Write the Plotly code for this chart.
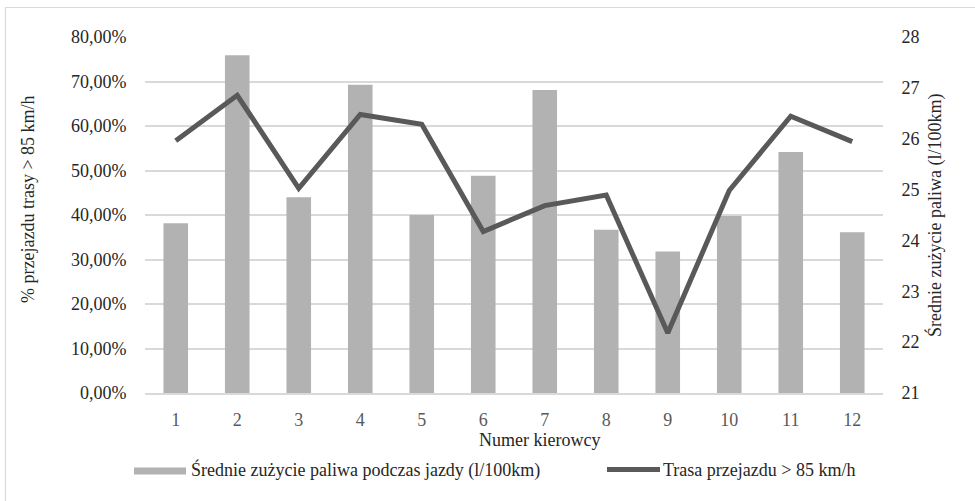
import plotly.graph_objects as go

# Driver numbers
drivers = [str(i) for i in range(1, 13)]
# Average fuel consumption while driving (l/100km)
fuel = [24.34, 27.64, 24.85, 27.06, 24.50, 25.27, 26.96, 24.21, 23.78, 24.48, 25.74, 24.16]
# Share of route driven above 85 km/h
share_fast = [0.567, 0.669, 0.460, 0.626, 0.604, 0.363, 0.421, 0.445, 0.135, 0.455, 0.622, 0.565]

left_ticks = [i / 10 for i in range(0, 9)]
right_ticks = list(range(21, 29))

FONT = "Liberation Serif, Times New Roman, serif"
FS = 18
W, H = 975, 501
L, R, T, B = 145, 92, 37, 108
PW, PH = W - L - R, H - T - B


def px(x):
    return (x - L) / PW


def py(y):
    return (H - B - y) / PH


fig = go.Figure()
# bars on the right-hand (fuel) axis, drawn first
fig.add_trace(go.Bar(
    x=drivers, y=fuel, yaxis="y",
    name="Średnie zużycie paliwa podczas jazdy (l/100km)",
    marker=dict(color="#b2b2b2", line=dict(width=0)),
    width=0.4,
))
# line on the overlaying left-hand (percent) axis, drawn on top
fig.add_trace(go.Scatter(
    x=drivers, y=share_fast, yaxis="y2",
    name="Trasa przejazdu > 85 km/h",
    mode="lines",
    line=dict(color="#595959", width=5),
))

fig.update_layout(
    width=W, height=H,
    margin=dict(l=L, r=R, t=T, b=B),
    paper_bgcolor="white", plot_bgcolor="white",
    separators=", ",
    showlegend=False,
    font=dict(family=FONT, size=FS, color="#262626"),
    xaxis=dict(
        type="category", range=[-0.5, 11.5],
        showgrid=False, showline=True, linecolor="#d9d9d9", linewidth=1.5,
        ticks="outside", ticklen=10, tickcolor="rgba(0,0,0,0)",
        tickfont=dict(family=FONT, color="#595959", size=FS),
    ),
    yaxis=dict(
        range=[21, 28], tickvals=right_ticks, side="right",
        showgrid=False, zeroline=False, showline=False,
        ticks="outside", ticklen=14, tickcolor="rgba(0,0,0,0)",
        tickfont=dict(family=FONT, color="#262626", size=FS),
    ),
    yaxis2=dict(
        range=[0, 0.8], tickvals=left_ticks, tickformat=".2%",
        overlaying="y", side="left",
        showgrid=True, gridcolor="#d9d9d9", gridwidth=1.5,
        zeroline=False, showline=False,
        ticks="outside", ticklen=14, tickcolor="rgba(0,0,0,0)",
        tickfont=dict(family=FONT, color="#262626", size=FS),
    ),
    bargap=0.6,
)

ann_font = dict(family=FONT, size=FS, color="#262626")

# Axis titles
fig.add_annotation(text="% przejazdu trasy > 85 km/h", xref="paper", yref="paper",
                   x=px(28), y=py(199), textangle=-90, showarrow=False,
                   font=ann_font, xanchor="center", yanchor="middle")
fig.add_annotation(text="Średnie zużycie paliwa (l/100km)", xref="paper", yref="paper",
                   x=px(935), y=py(216), textangle=-90, showarrow=False,
                   font=ann_font, xanchor="center", yanchor="middle")
fig.add_annotation(text="Numer kierowcy", xref="paper", yref="paper",
                   x=px(539), y=py(440), showarrow=False,
                   font=ann_font, xanchor="center", yanchor="middle")

# Legend
fig.add_shape(type="rect", xref="paper", yref="paper",
              x0=px(134), x1=px(186), y0=py(467.5), y1=py(474.5),
              fillcolor="#b2b2b2", line=dict(width=0))
fig.add_annotation(text="Średnie zużycie paliwa podczas jazdy (l/100km)", xref="paper", yref="paper",
                   x=px(189), y=py(470), showarrow=False, xanchor="left", yanchor="middle",
                   font=ann_font)
fig.add_shape(type="line", xref="paper", yref="paper",
              x0=px(607), x1=px(660), y0=py(469.5), y1=py(469.5),
              line=dict(color="#595959", width=5))
fig.add_annotation(text="Trasa przejazdu > 85 km/h", xref="paper", yref="paper",
                   x=px(661), y=py(470), showarrow=False, xanchor="left", yanchor="middle",
                   font=ann_font)

# Chart border
fig.add_shape(type="rect", xref="paper", yref="paper",
              x0=px(5.5), x1=px(990), y0=py(7.5), y1=py(520),
              line=dict(color="#d9d9d9", width=1.2), fillcolor="rgba(0,0,0,0)", layer="below")

fig.write_html("out.html")
